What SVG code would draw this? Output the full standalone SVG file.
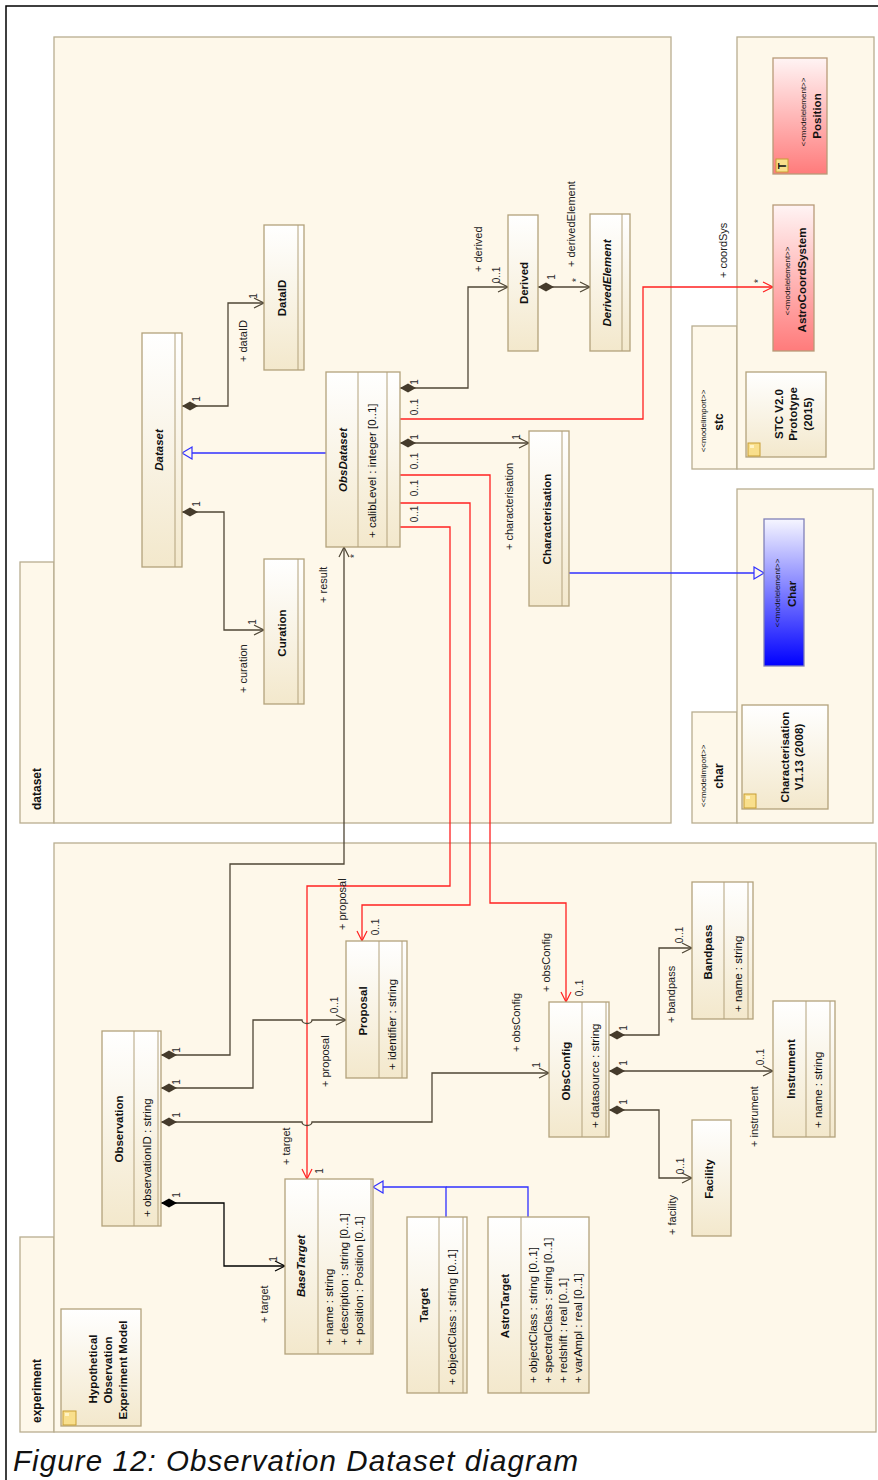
<svg xmlns="http://www.w3.org/2000/svg" width="878" height="1480" viewBox="0 0 878 1480">
<defs>
<linearGradient id="gc" x1="0" y1="0" x2="0" y2="1"><stop offset="0" stop-color="#ffffff"/><stop offset="1" stop-color="#f3e8cc"/></linearGradient>
<linearGradient id="gpink" x1="0" y1="0" x2="0" y2="1"><stop offset="0" stop-color="#fff4f4"/><stop offset="1" stop-color="#ff7b7b"/></linearGradient>
<linearGradient id="gblue" x1="0" y1="0" x2="0" y2="1"><stop offset="0" stop-color="#f6f6ff"/><stop offset="1" stop-color="#0000ff"/></linearGradient>
<marker id="dia" markerUnits="userSpaceOnUse" markerWidth="20" markerHeight="12" refX="0" refY="0" orient="auto" overflow="visible"><path d="M0,0 L8,-4.5 L16,0 L8,4.5 Z" fill="#453b2c"/></marker>
<marker id="diaK" markerUnits="userSpaceOnUse" markerWidth="20" markerHeight="12" refX="0" refY="0" orient="auto" overflow="visible"><path d="M0,0 L8,-4.5 L16,0 L8,4.5 Z" fill="#000"/></marker>
<marker id="arr" markerUnits="userSpaceOnUse" markerWidth="12" markerHeight="12" refX="0" refY="0" orient="auto" overflow="visible"><path d="M-10,-5 L0,0 L-10,5" fill="none" stroke="#4f4636" stroke-width="1.2"/></marker>
<marker id="arrK" markerUnits="userSpaceOnUse" markerWidth="12" markerHeight="12" refX="0" refY="0" orient="auto" overflow="visible"><path d="M-10,-5 L0,0 L-10,5" fill="none" stroke="#000" stroke-width="1.2"/></marker>
<marker id="arrR" markerUnits="userSpaceOnUse" markerWidth="12" markerHeight="12" refX="0" refY="0" orient="auto" overflow="visible"><path d="M-10,-5 L0,0 L-10,5" fill="none" stroke="#ff2020" stroke-width="1.2"/></marker>
<marker id="tri" markerUnits="userSpaceOnUse" markerWidth="14" markerHeight="14" refX="0" refY="0" orient="auto" overflow="visible"><path d="M0,-6 L10,0 L0,6 Z" fill="#fef8ea" stroke="#3030ff" stroke-width="1.2"/></marker>
</defs>
<style>
.pk{fill:#fef8ea;stroke:#b8ad90;stroke-width:1.3}
.cl{fill:url(#gc);stroke:#b3a27c;stroke-width:1.3}
.cp{stroke:#b3a27c;stroke-width:1;fill:none}
text{font-family:"Liberation Sans",Arial,sans-serif;fill:#111}
.n{font-size:11.5px;font-weight:bold;text-anchor:middle}
.ni{font-size:11.5px;font-weight:bold;font-style:italic;text-anchor:middle}
.a{font-size:11.5px}
.lb{font-size:11px;fill:#222}
.m{font-size:10px;fill:#2a2a2a}
.st{font-size:8px;text-anchor:middle}
.pn{font-size:12px;font-weight:bold}
.c{fill:none;stroke:#4f4636;stroke-width:1.3}
.k{fill:none;stroke:#000;stroke-width:1.3}
.r{fill:none;stroke:#ff2020;stroke-width:1.3}
.g{fill:none;stroke:#3030ff;stroke-width:1.3}
.ic{fill:#f9df8c;stroke:#c79e35;stroke-width:1}
</style>
<rect x="0" y="0" width="878" height="1480" fill="#fff"/>
<rect x="6" y="6" width="900" height="1500" fill="none" stroke="#000" stroke-width="1.5"/>

<!-- packages -->
<g id="pkg-dataset">
<rect class="pk" x="20" y="562" width="34" height="261"/>
<rect class="pk" x="54" y="37" width="617" height="786"/>
<text class="pn" transform="translate(41,810) rotate(-90)">dataset</text>
</g>
<g id="pkg-stc">
<rect class="pk" x="692" y="326" width="45" height="143"/>
<rect class="pk" x="737" y="37" width="137" height="432"/>
<text class="st" transform="translate(706,421) rotate(-90)">&lt;&lt;modelimport&gt;&gt;</text>
<text class="pn" text-anchor="middle" transform="translate(723,422) rotate(-90)">stc</text>
</g>
<g id="pkg-char">
<rect class="pk" x="692" y="712" width="45" height="111"/>
<rect class="pk" x="737" y="489" width="136" height="334"/>
<text class="st" transform="translate(706,776) rotate(-90)">&lt;&lt;modelimport&gt;&gt;</text>
<text class="pn" text-anchor="middle" transform="translate(723,776) rotate(-90)">char</text>
</g>
<g id="pkg-experiment">
<rect class="pk" x="20" y="1237" width="34" height="195"/>
<rect class="pk" x="54" y="843" width="822" height="589"/>
<text class="pn" transform="translate(41,1423) rotate(-90)">experiment</text>
</g>

<!-- connectors -->
<g id="connectors">
<path class="c" d="M182,406 H228 V303 H264" marker-start="url(#dia)" marker-end="url(#arr)"/>
<path class="c" d="M182,512 H224 V630 H264" marker-start="url(#dia)" marker-end="url(#arr)"/>
<path class="g" d="M326,453 H192" marker-end="url(#tri)"/>
<path class="c" d="M400,388 H468 V287 H508" marker-start="url(#dia)" marker-end="url(#arr)"/>
<path class="c" d="M400,443 H529" marker-start="url(#dia)" marker-end="url(#arr)"/>
<path class="c" d="M538,287 H590" marker-start="url(#dia)" marker-end="url(#arr)"/>
<path class="g" d="M569,573 H754" marker-end="url(#tri)"/>
<path class="r" d="M400,419 H643 V287 H773" marker-end="url(#arrR)"/>
<path class="r" d="M400,475 H490 V903 H566 V1002" marker-end="url(#arrR)"/>
<path class="r" d="M400,503 H470 V905 H362 V941" marker-end="url(#arrR)"/>
<path class="r" d="M400,527 H450 V886 H307 V1179" marker-end="url(#arrR)"/>
<path class="c" d="M161,1055 H230 V864 H344 V547" marker-start="url(#dia)" marker-end="url(#arr)"/>
<path class="c" d="M161,1088 H253 V1020 H302 a5,3.5 0 0 0 10,0 H346" marker-start="url(#dia)" marker-end="url(#arr)"/>
<path class="c" d="M161,1122 H302 a5,3.5 0 0 0 10,0 H432 V1073 H549" marker-start="url(#dia)" marker-end="url(#arr)"/>
<path class="k" d="M161,1203 H224 V1266 H285" marker-start="url(#diaK)" marker-end="url(#arrK)"/>
<path class="c" d="M609,1035 H659 V948 H692" marker-start="url(#dia)" marker-end="url(#arr)"/>
<path class="c" d="M609,1071 H773" marker-start="url(#dia)" marker-end="url(#arr)"/>
<path class="c" d="M609,1110 H659 V1178 H692" marker-start="url(#dia)" marker-end="url(#arr)"/>
<path class="g" d="M446,1217 V1187 H383" marker-end="url(#tri)"/>
<path class="g" d="M528,1217 V1187 H446"/>
<!-- labels -->
<text class="lb" transform="translate(247,362) rotate(-90)">+ dataID</text>
<text class="m" text-anchor="middle" transform="translate(257,296) rotate(-90)">1</text>
<text class="m" text-anchor="middle" transform="translate(200,399) rotate(-90)">1</text>
<text class="lb" transform="translate(247,693) rotate(-90)">+ curation</text>
<text class="m" text-anchor="middle" transform="translate(256,622) rotate(-90)">1</text>
<text class="m" text-anchor="middle" transform="translate(200,504) rotate(-90)">1</text>
<text class="lb" transform="translate(327,603) rotate(-90)">+ result</text>
<text class="m" text-anchor="middle" transform="translate(358,556) rotate(-90)">*</text>
<text class="m" text-anchor="middle" transform="translate(418,382) rotate(-90)">1</text>
<text class="m" text-anchor="middle" transform="translate(418,407) rotate(-90)">0..1</text>
<text class="m" text-anchor="middle" transform="translate(418,437) rotate(-90)">1</text>
<text class="m" text-anchor="middle" transform="translate(418,461) rotate(-90)">0..1</text>
<text class="m" text-anchor="middle" transform="translate(418,488) rotate(-90)">0..1</text>
<text class="m" text-anchor="middle" transform="translate(418,514) rotate(-90)">0..1</text>
<text class="lb" transform="translate(482,272) rotate(-90)">+ derived</text>
<text class="m" text-anchor="middle" transform="translate(500,275) rotate(-90)">0..1</text>
<text class="m" text-anchor="middle" transform="translate(555,277) rotate(-90)">1</text>
<text class="m" text-anchor="middle" transform="translate(580,280) rotate(-90)">*</text>
<text class="lb" transform="translate(575,267) rotate(-90)">+ derivedElement</text>
<text class="lb" transform="translate(727,278) rotate(-90)">+ coordSys</text>
<text class="m" text-anchor="middle" transform="translate(762,281) rotate(-90)">*</text>
<text class="lb" transform="translate(513,550) rotate(-90)">+ characterisation</text>
<text class="m" text-anchor="middle" transform="translate(520,437) rotate(-90)">1</text>
<text class="lb" transform="translate(550,992) rotate(-90)">+ obsConfig</text>
<text class="m" text-anchor="middle" transform="translate(583,988) rotate(-90)">0..1</text>
<text class="lb" transform="translate(346,930) rotate(-90)">+ proposal</text>
<text class="m" text-anchor="middle" transform="translate(379,927) rotate(-90)">0..1</text>
<text class="lb" transform="translate(290,1165) rotate(-90)">+ target</text>
<text class="m" text-anchor="middle" transform="translate(323,1171) rotate(-90)">1</text>
<text class="m" text-anchor="middle" transform="translate(180,1050) rotate(-90)">1</text>
<text class="m" text-anchor="middle" transform="translate(180,1082) rotate(-90)">1</text>
<text class="m" text-anchor="middle" transform="translate(180,1115) rotate(-90)">1</text>
<text class="m" text-anchor="middle" transform="translate(180,1195) rotate(-90)">1</text>
<text class="m" text-anchor="middle" transform="translate(338,1005) rotate(-90)">0..1</text>
<text class="lb" transform="translate(329,1087) rotate(-90)">+ proposal</text>
<text class="lb" transform="translate(268,1323) rotate(-90)">+ target</text>
<text class="m" text-anchor="middle" transform="translate(277,1259) rotate(-90)">1</text>
<text class="lb" transform="translate(520,1052) rotate(-90)">+ obsConfig</text>
<text class="m" text-anchor="middle" transform="translate(540,1065) rotate(-90)">1</text>
<text class="m" text-anchor="middle" transform="translate(627,1028) rotate(-90)">1</text>
<text class="m" text-anchor="middle" transform="translate(627,1063) rotate(-90)">1</text>
<text class="m" text-anchor="middle" transform="translate(627,1102) rotate(-90)">1</text>
<text class="lb" transform="translate(675,1023) rotate(-90)">+ bandpass</text>
<text class="m" text-anchor="middle" transform="translate(683,935) rotate(-90)">0..1</text>
<text class="lb" transform="translate(758,1147) rotate(-90)">+ instrument</text>
<text class="m" text-anchor="middle" transform="translate(764,1057) rotate(-90)">0..1</text>
<text class="lb" transform="translate(676,1235) rotate(-90)">+ facility</text>
<text class="m" text-anchor="middle" transform="translate(684,1166) rotate(-90)">0..1</text>
</g>

<!-- dataset classes -->
<g id="Dataset">
<rect class="cl" x="142" y="333" width="40" height="234"/>
<line class="cp" x1="175" y1="333" x2="175" y2="567"/>
<text class="ni" transform="translate(163,450) rotate(-90)">Dataset</text>
</g>
<g id="DataID">
<rect class="cl" x="264" y="225" width="40" height="145"/>
<line class="cp" x1="298" y1="225" x2="298" y2="370"/>
<text class="n" transform="translate(286,298) rotate(-90)">DataID</text>
</g>
<g id="Curation">
<rect class="cl" x="264" y="559" width="40" height="145"/>
<line class="cp" x1="298" y1="559" x2="298" y2="704"/>
<text class="n" transform="translate(286,633) rotate(-90)">Curation</text>
</g>
<g id="ObsDataset">
<rect class="cl" x="326" y="372" width="74" height="175"/>
<line class="cp" x1="358" y1="372" x2="358" y2="547"/>
<line class="cp" x1="387" y1="372" x2="387" y2="547"/>
<text class="ni" transform="translate(347,460) rotate(-90)">ObsDataset</text>
<text class="a" transform="translate(376,538) rotate(-90)">+ calibLevel : integer [0..1]</text>
</g>
<g id="Derived">
<rect class="cl" x="508" y="215" width="30" height="136"/>
<text class="n" transform="translate(528,283) rotate(-90)">Derived</text>
</g>
<g id="DerivedElement">
<rect class="cl" x="590" y="214" width="40" height="137"/>
<line class="cp" x1="622" y1="214" x2="622" y2="351"/>
<text class="ni" transform="translate(611,283) rotate(-90)">DerivedElement</text>
</g>
<g id="Characterisation">
<rect class="cl" x="529" y="431" width="40" height="175"/>
<line class="cp" x1="562" y1="431" x2="562" y2="606"/>
<text class="n" transform="translate(551,519) rotate(-90)">Characterisation</text>
</g>

<!-- stc / char elements -->
<g id="AstroCoordSystem">
<rect x="773" y="205" width="41" height="146" fill="url(#gpink)" stroke="#b89a78" stroke-width="1.3"/>
<text class="st" transform="translate(790,281) rotate(-90)">&lt;&lt;modelelement&gt;&gt;</text>
<text class="n" transform="translate(806,280) rotate(-90)">AstroCoordSystem</text>
</g>
<g id="Position">
<rect x="773" y="58" width="54" height="116" fill="url(#gpink)" stroke="#b89a78" stroke-width="1.3"/>
<text class="st" transform="translate(806,112) rotate(-90)">&lt;&lt;modelelement&gt;&gt;</text>
<text class="n" transform="translate(821,116) rotate(-90)">Position</text>
<rect class="ic" x="776" y="159" width="12" height="13"/>
<text font-size="10" font-weight="bold" fill="#e02020" text-anchor="middle" transform="translate(786,166) rotate(-90)">T</text>
</g>
<g id="STC">
<rect class="cl" x="746" y="372" width="80" height="85"/>
<text class="n" transform="translate(783,414) rotate(-90)">STC V2.0</text>
<text class="n" transform="translate(797,414) rotate(-90)">Prototype</text>
<text class="n" transform="translate(812,414) rotate(-90)">(2015)</text>
<rect class="ic" x="748" y="443" width="12" height="13"/>
<rect x="750" y="445" width="4" height="3" fill="#fff3c4"/>
</g>
<g id="Char">
<rect x="764" y="519" width="40" height="147" fill="url(#gblue)" stroke="#8080b8" stroke-width="1.3"/>
<text class="st" transform="translate(780,593) rotate(-90)">&lt;&lt;modelelement&gt;&gt;</text>
<text class="n" transform="translate(796,594) rotate(-90)">Char</text>
</g>
<g id="CharModel">
<rect class="cl" x="742" y="705" width="86" height="104"/>
<text class="n" transform="translate(789,757) rotate(-90)">Characterisation</text>
<text class="n" transform="translate(803,757) rotate(-90)">V1.13 (2008)</text>
<rect class="ic" x="744" y="794" width="12" height="14"/>
<rect x="746" y="796" width="4" height="3" fill="#fff3c4"/>
</g>

<!-- experiment classes -->
<g id="HypoModel">
<rect class="cl" x="61" y="1309" width="80" height="117"/>
<text class="n" transform="translate(97,1369) rotate(-90)">Hypothetical</text>
<text class="n" transform="translate(112,1370) rotate(-90)">Observation</text>
<text class="n" transform="translate(127,1370) rotate(-90)">Experiment Model</text>
<rect class="ic" x="63" y="1411" width="13" height="14"/>
<rect x="65" y="1413" width="4" height="3" fill="#fff3c4"/>
</g>
<g id="Observation">
<rect class="cl" x="102" y="1031" width="59" height="195"/>
<line class="cp" x1="134" y1="1031" x2="134" y2="1226"/>
<line class="cp" x1="158" y1="1031" x2="158" y2="1226"/>
<text class="n" transform="translate(123,1129) rotate(-90)">Observation</text>
<text class="a" transform="translate(151,1217) rotate(-90)">+ observationID : string</text>
</g>
<g id="Proposal">
<rect class="cl" x="346" y="941" width="61" height="137"/>
<line class="cp" x1="379" y1="941" x2="379" y2="1078"/>
<line class="cp" x1="402" y1="941" x2="402" y2="1078"/>
<text class="n" transform="translate(367,1011) rotate(-90)">Proposal</text>
<text class="a" transform="translate(396,1070) rotate(-90)">+ identifier : string</text>
</g>
<g id="ObsConfig">
<rect class="cl" x="549" y="1002" width="60" height="135"/>
<line class="cp" x1="582" y1="1002" x2="582" y2="1137"/>
<line class="cp" x1="606" y1="1002" x2="606" y2="1137"/>
<text class="n" transform="translate(570,1071) rotate(-90)">ObsConfig</text>
<text class="a" transform="translate(599,1128) rotate(-90)">+ datasource : string</text>
</g>
<g id="Bandpass">
<rect class="cl" x="692" y="882" width="61" height="137"/>
<line class="cp" x1="724" y1="882" x2="724" y2="1019"/>
<line class="cp" x1="748" y1="882" x2="748" y2="1019"/>
<text class="n" transform="translate(712,952) rotate(-90)">Bandpass</text>
<text class="a" transform="translate(742,1012) rotate(-90)">+ name : string</text>
</g>
<g id="Instrument">
<rect class="cl" x="773" y="1001" width="62" height="136"/>
<line class="cp" x1="806" y1="1001" x2="806" y2="1137"/>
<line class="cp" x1="830" y1="1001" x2="830" y2="1137"/>
<text class="n" transform="translate(795,1069) rotate(-90)">Instrument</text>
<text class="a" transform="translate(822,1128) rotate(-90)">+ name : string</text>
</g>
<g id="Facility">
<rect class="cl" x="692" y="1120" width="39" height="116"/>
<text class="n" transform="translate(713,1179) rotate(-90)">Facility</text>
</g>
<g id="BaseTarget">
<rect class="cl" x="285" y="1179" width="88" height="175"/>
<line class="cp" x1="318" y1="1179" x2="318" y2="1354"/>
<line class="cp" x1="371" y1="1179" x2="371" y2="1354"/>
<text class="ni" transform="translate(305,1266) rotate(-90)">BaseTarget</text>
<text class="a" transform="translate(333,1345) rotate(-90)">+ name : string</text>
<text class="a" transform="translate(348,1345) rotate(-90)">+ description : string [0..1]</text>
<text class="a" transform="translate(363,1345) rotate(-90)">+ position : Position [0..1]</text>
</g>
<g id="Target">
<rect class="cl" x="407" y="1217" width="60" height="176"/>
<line class="cp" x1="439" y1="1217" x2="439" y2="1393"/>
<line class="cp" x1="463" y1="1217" x2="463" y2="1393"/>
<text class="n" transform="translate(428,1305) rotate(-90)">Target</text>
<text class="a" transform="translate(456,1385) rotate(-90)">+ objectClass : string [0..1]</text>
</g>
<g id="AstroTarget">
<rect class="cl" x="488" y="1217" width="101" height="176"/>
<line class="cp" x1="521" y1="1217" x2="521" y2="1393"/>
<text class="n" transform="translate(509,1306) rotate(-90)">AstroTarget</text>
<text class="a" transform="translate(537,1383) rotate(-90)">+ objectClass : string [0..1]</text>
<text class="a" transform="translate(552,1383) rotate(-90)">+ spectralClass : string [0..1]</text>
<text class="a" transform="translate(567,1383) rotate(-90)">+ redshift : real [0..1]</text>
<text class="a" transform="translate(582,1383) rotate(-90)">+ varAmpl : real [0..1]</text>
</g>

<text x="13" y="1471" font-size="29.5" font-style="italic" textLength="565" lengthAdjust="spacing" fill="#000">Figure 12: Observation Dataset diagram</text>
</svg>
